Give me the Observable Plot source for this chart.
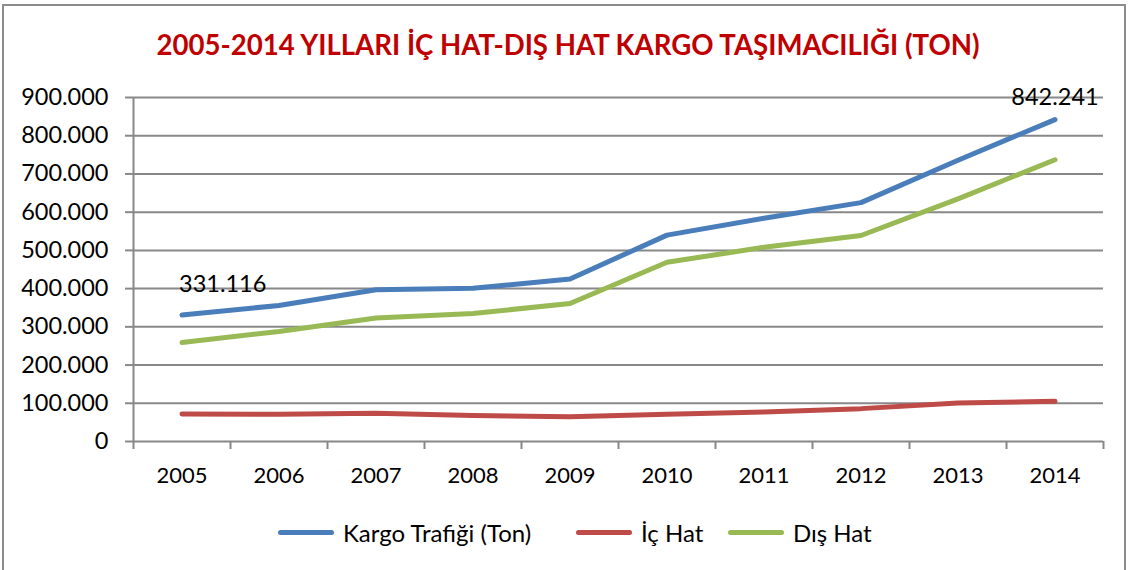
<!DOCTYPE html>
<html>
<head>
<meta charset="utf-8">
<script src="https://cdn.jsdelivr.net/npm/d3@7"></script>
<script src="https://cdn.jsdelivr.net/npm/@observablehq/plot@0.6"></script>
<style>
  html, body { margin:0; padding:0; background:#fff; overflow:hidden; }
  #wrap { position:relative; width:1132px; height:570px; font-family:Lato, sans-serif; }
  #frame { position:absolute; left:2px; top:4px; width:1124px; height:600px; border:2px solid #8c8c8c; box-sizing:border-box; }
  #title { position:absolute; left:0; top:27px; width:1136px; text-align:center; font-weight:bold; font-size:27.6px; color:#C00000; line-height:36px; }
  #chart { position:absolute; left:0; top:0; }
  #legend { position:absolute; left:0; top:517px; width:1132px; height:30px; font-size:24px; color:#000; }
  .item { position:absolute; top:0; height:30px; display:flex; align-items:center; }
  .sw { width:56px; height:5px; border-radius:3px; margin-right:9px; }
</style>
</head>
<body>
<div id="wrap">
  <div id="frame"></div>
  <div id="chart"></div>
  <div id="title">2005-2014 YILLARI İÇ HAT-DIŞ HAT KARGO TAŞIMACILIĞI (TON)</div>
  <div id="legend"></div>
</div>
<script>
const years = [2005, 2006, 2007, 2008, 2009, 2010, 2011, 2012, 2013, 2014];
const kargo = [331116, 356000, 397000, 401000, 425000, 540000, 584000, 625000, 736000, 842241];
const icHat = [72000, 71000, 74000, 68000, 65000, 71000, 77000, 86000, 101000, 105000];
const disHat = [259000, 288000, 323000, 335000, 361000, 469000, 508000, 539000, 635000, 737000];
const seriesNames = ["Kargo Trafiği (Ton)", "İç Hat", "Dış Hat"];
const seriesColors = ["#4A7EBB", "#BE4B48", "#98B954"];
const yTicks = [0, 100000, 200000, 300000, 400000, 500000, 600000, 700000, 800000, 900000];
const bandEdges = [2004.5, 2005.5, 2006.5, 2007.5, 2008.5, 2009.5, 2010.5, 2011.5, 2012.5, 2013.5, 2014.5];
const labelled = [{year: 2005, value: 331116}, {year: 2014, value: 842241}];
const legendLeft = [278, 576, 728];

const loc = d3.formatLocale({decimal: ",", thousands: ".", grouping: [3], currency: ["", ""]});
const fmt = loc.format(",d");

const seriesValues = [kargo, icHat, disHat];
const rows = seriesValues.map((vals, s) => years.map((y, i) => ({year: y, value: vals[i], series: seriesNames[s]})));

const grid = "#888888";
const chart = Plot.plot({
  width: 1132,
  height: 500,
  marginLeft: 133,
  marginRight: 29,
  marginTop: 97,
  marginBottom: 59,
  style: {fontFamily: "Lato, sans-serif", fontSize: "22px", color: "#000", background: "transparent", overflow: "visible"},
  x: {type: "linear", domain: [2004.5, 2014.5]},
  y: {domain: [0, 900000]},
  marks: [
    Plot.gridY(yTicks, {stroke: grid, strokeOpacity: 1, strokeWidth: 2}),
    Plot.axisY(yTicks, {tickSize: 8, tickPadding: 17, tickFormat: fmt, stroke: grid, strokeWidth: 2, label: null, fontSize: 23.5}),
    Plot.ruleX([2004.5], {y1: 0, y2: 900000, stroke: grid, strokeWidth: 2}),
    Plot.axisX(bandEdges, {tickSize: 8, tickFormat: () => "", stroke: grid, strokeWidth: 2, label: null}),
    Plot.axisX(years, {tickSize: 0, tickPadding: 26, tickFormat: d => String(d), label: null, fontSize: 22}),
    ...rows.map((r, s) => Plot.line(r, {x: "year", y: "value", stroke: seriesColors[s], strokeWidth: 5, strokeLinecap: "round", strokeLinejoin: "round"})),
    Plot.text(labelled.slice(0, 1), {x: "year", y: "value", text: d => fmt(d.value), textAnchor: "start", dx: -3, dy: -30, fill: "#000", fontSize: 23.5}),
    Plot.text(labelled.slice(1), {x: "year", y: "value", text: d => fmt(d.value), textAnchor: "middle", dy: -22, fill: "#000", fontSize: 23.5})
  ]
});
document.getElementById("chart").appendChild(chart);

const legend = document.getElementById("legend");
seriesNames.forEach((n, i) => {
  const it = document.createElement("div");
  it.className = "item";
  it.style.left = legendLeft[i] + "px";
  const sw = document.createElement("div");
  sw.className = "sw";
  sw.style.background = seriesColors[i];
  const t = document.createElement("span");
  t.textContent = n;
  it.appendChild(sw);
  it.appendChild(t);
  legend.appendChild(it);
});
</script>
</body>
</html>
